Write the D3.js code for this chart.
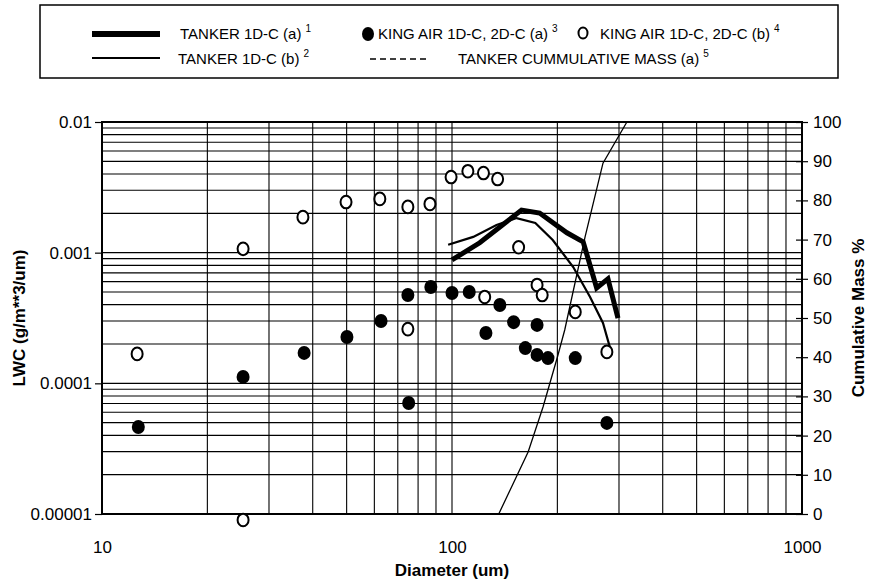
<!DOCTYPE html>
<html>
<head>
<meta charset="utf-8">
<script src="https://cdn.jsdelivr.net/npm/d3@7"></script>
<style>
  body { margin: 0; background: #fff; }
  text { font-family: "Liberation Sans", Arial, sans-serif; fill: #000; }
</style>
</head>
<body>
<div id="chart"></div>
<script>

// ---- data ----
var tankerA_d   = [100, 120, 137, 158, 178, 213, 237, 259, 279, 298];
var tankerA_lwc = [8.8e-4, 1.19e-3, 1.57e-3, 2.12e-3, 2.01e-3, 1.42e-3, 1.21e-3, 5.37e-4, 6.3e-4, 3.16e-4];

var tankerB_d   = [97.5, 115, 134, 153, 173, 194, 222, 248, 270, 283];
var tankerB_lwc = [1.15e-3, 1.32e-3, 1.63e-3, 1.84e-3, 1.69e-3, 1.25e-3, 7.76e-4, 4.58e-4, 2.9e-4, 1.86e-4];

var kingA_d   = [12.7, 25.3, 37.8, 50.1, 62.7, 74.8, 75.2, 87, 100, 112, 125, 137, 150, 175, 162, 175, 188, 225, 277];
var kingA_lwc = [4.63e-5, 1.12e-4, 1.71e-4, 2.26e-4, 3.0e-4, 4.74e-4, 7.08e-5, 5.46e-4, 4.91e-4, 5.0e-4, 2.43e-4, 3.98e-4, 2.94e-4, 2.8e-4, 1.86e-4, 1.65e-4, 1.56e-4, 1.56e-4, 4.98e-5];

var kingB_d   = [12.6, 25.3, 25.3, 37.5, 49.8, 62.2, 74.8, 86.5, 99.4, 111, 123, 135, 155, 74.8, 124, 175, 181, 225, 277];
var kingB_lwc = [1.68e-4, 1.07e-3, 9.0e-6, 1.87e-3, 2.44e-3, 2.58e-3, 2.24e-3, 2.36e-3, 3.79e-3, 4.2e-3, 4.07e-3, 3.66e-3, 1.10e-3, 2.6e-4, 4.58e-4, 5.66e-4, 4.74e-4, 3.52e-4, 1.74e-4];

var cumMass_d   = [136, 165, 182, 200, 210, 240, 270, 316];
var cumMass_pct = [0, 15.8, 27.3, 40, 47, 70.7, 89.5, 100];

var xTicks = [10, 100, 1000];
var xTickLabels = ["10", "100", "1000"];
var yTicks = [0.01, 0.001, 0.0001, 0.00001];
var yTickLabels = ["0.01", "0.001", "0.0001", "0.00001"];
var y2Ticks = [0, 10, 20, 30, 40, 50, 60, 70, 80, 90, 100];

var legendRow1 = ["TANKER 1D-C (a)", "KING AIR 1D-C, 2D-C (a)", "KING AIR 1D-C, 2D-C (b)"];
var legendRow2 = ["TANKER 1D-C (b)", "TANKER CUMMULATIVE MASS (a)"];

// ---- layout ----
var width = 869, height = 583;
var pL = 102, pR = 802, pT = 122, pB = 514;

var svg = d3.select("#chart").append("svg")
    .attr("width", width)
    .attr("height", height);

var x = d3.scaleLog().domain([10, 1000]).range([pL, pR]);
var y = d3.scaleLog().domain([1e-5, 1e-2]).range([pB, pT]);
var y2 = d3.scaleLinear().domain([0, 100]).range([pB, pT]);

// minor grid values for log axes
function logGrid(lo, hi) {
  var v = [];
  for (var p = lo; p < hi * 0.99; p *= 10)
    for (var m = 1; m <= 9; m++) v.push(p * m);
  v.push(hi);
  return v;
}

var grid = svg.append("g");

grid.selectAll("line.v")
    .data(logGrid(10, 1000))
    .enter().append("line")
    .attr("x1", function(d){ return x(d); })
    .attr("x2", function(d){ return x(d); })
    .attr("y1", pT).attr("y2", pB)
    .attr("stroke", "#000").attr("stroke-width", 1.1);

grid.selectAll("line.h")
    .data(logGrid(1e-5, 1e-2))
    .enter().append("line")
    .attr("y1", function(d){ return y(d); })
    .attr("y2", function(d){ return y(d); })
    .attr("x1", pL).attr("x2", pR)
    .attr("stroke", "#000").attr("stroke-width", 1.1);

// frame
svg.append("rect")
    .attr("x", pL).attr("y", pT)
    .attr("width", pR - pL).attr("height", pB - pT)
    .attr("fill", "none").attr("stroke", "#000").attr("stroke-width", 2);

// axes
var leftAxis = svg.append("g")
    .attr("transform", "translate(" + pL + ",0)")
    .call(d3.axisLeft(y).tickValues(yTicks).tickSize(7).tickPadding(3)
      .tickFormat(function(d, i){ return yTickLabels[i]; }));

var rightAxis = svg.append("g")
    .attr("transform", "translate(" + pR + ",0)")
    .call(d3.axisRight(y2).tickValues(y2Ticks).tickSize(6).tickPadding(5));
rightAxis.selectAll(".tick line").attr("x1", -6);

var bottomAxis = svg.append("g")
    .attr("transform", "translate(0," + pB + ")")
    .call(d3.axisBottom(x).tickValues(xTicks).tickSize(0).tickPadding(27)
      .tickFormat(function(d, i){ return xTickLabels[i]; }));

[leftAxis, rightAxis, bottomAxis].forEach(function(a){
  a.select(".domain").remove();
  a.selectAll(".tick line").attr("stroke", "#000").attr("stroke-width", 1.2);
  a.selectAll("text")
    .attr("font-family", "Liberation Sans, Arial, sans-serif")
    .attr("font-size", 17).attr("fill", "#000");
});

// axis titles
svg.append("text")
    .attr("x", (pL + pR) / 2).attr("y", 576)
    .attr("text-anchor", "middle")
    .attr("font-size", 17).attr("font-weight", "bold")
    .text("Diameter (um)");

svg.append("text")
    .attr("transform", "translate(25," + (pT + pB) / 2 + ") rotate(-90)")
    .attr("text-anchor", "middle")
    .attr("font-size", 17).attr("font-weight", "bold")
    .text("LWC (g/m**3/um)");

svg.append("text")
    .attr("transform", "translate(864," + (pT + pB) / 2 + ") rotate(-90)")
    .attr("text-anchor", "middle")
    .attr("font-size", 17).attr("font-weight", "bold")
    .text("Cumulative Mass %");

// lines
var lineLWC = d3.line()
    .x(function(d){ return x(d[0]); })
    .y(function(d){ return y(d[1]); });

svg.append("path")
    .datum(d3.zip(cumMass_d, cumMass_pct))
    .attr("fill", "none").attr("stroke", "#000").attr("stroke-width", 1.3)
    .attr("d", d3.line()
      .x(function(d){ return x(d[0]); })
      .y(function(d){ return y2(d[1]); }));

svg.append("path")
    .datum(d3.zip(tankerB_d, tankerB_lwc))
    .attr("fill", "none").attr("stroke", "#000").attr("stroke-width", 2.2)
    .attr("d", lineLWC);

svg.append("path")
    .datum(d3.zip(tankerA_d, tankerA_lwc))
    .attr("fill", "none").attr("stroke", "#000").attr("stroke-width", 5)
    .attr("stroke-linejoin", "miter")
    .attr("d", lineLWC);

// points
svg.append("g").selectAll("ellipse")
    .data(d3.zip(kingB_d, kingB_lwc))
    .enter().append("ellipse")
    .attr("cx", function(d){ return x(d[0]); })
    .attr("cy", function(d){ return y(d[1]); })
    .attr("rx", 5.5).attr("ry", 6.3)
    .attr("fill", "#fff").attr("stroke", "#000").attr("stroke-width", 2);

svg.append("g").selectAll("ellipse")
    .data(d3.zip(kingA_d, kingA_lwc))
    .enter().append("ellipse")
    .attr("cx", function(d){ return x(d[0]); })
    .attr("cy", function(d){ return y(d[1]); })
    .attr("rx", 6.5).attr("ry", 7)
    .attr("fill", "#000");

// ---- legend ----
var legend = svg.append("g");
legend.append("rect")
    .attr("x", 40).attr("y", 5).attr("width", 798).attr("height", 73)
    .attr("fill", "none").attr("stroke", "#000").attr("stroke-width", 1.5);

function legendText(xp, yp, label, sup) {
  var t = legend.append("text")
      .attr("x", xp).attr("y", yp)
      .attr("font-size", 15);
  t.append("tspan").text(label);
  t.append("tspan").attr("dx", 4).attr("dy", -7).attr("font-size", 10).text(sup);
}

legend.append("line").attr("x1", 92).attr("x2", 160).attr("y1", 34).attr("y2", 34)
    .attr("stroke", "#000").attr("stroke-width", 6);
legendText(180, 39, legendRow1[0], "1");

legend.append("ellipse").attr("cx", 368).attr("cy", 34).attr("rx", 6).attr("ry", 7).attr("fill", "#000");
legendText(378, 39, legendRow1[1], "3");

legend.append("ellipse").attr("cx", 583).attr("cy", 33).attr("rx", 4.5).attr("ry", 5.5)
    .attr("fill", "#fff").attr("stroke", "#000").attr("stroke-width", 2);
legendText(600, 39, legendRow1[2], "4");

legend.append("line").attr("x1", 92).attr("x2", 160).attr("y1", 58).attr("y2", 58)
    .attr("stroke", "#000").attr("stroke-width", 2);
legendText(178, 64, legendRow2[0], "2");

legend.append("line").attr("x1", 370).attr("x2", 426).attr("y1", 59).attr("y2", 59)
    .attr("stroke", "#000").attr("stroke-width", 1.5).attr("stroke-dasharray", "6,4");
legendText(458, 64, legendRow2[1], "5");

</script>
</body>
</html>
